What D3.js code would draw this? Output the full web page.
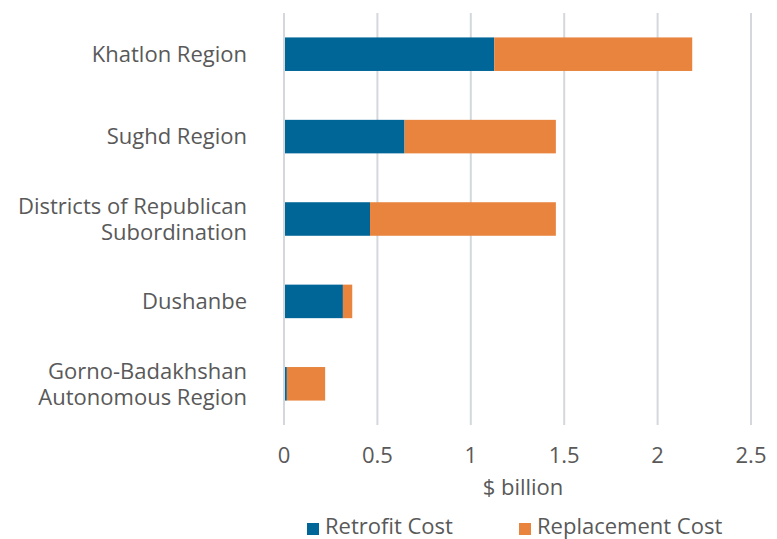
<!DOCTYPE html>
<html>
<head>
<meta charset="utf-8">
<script src="https://cdn.jsdelivr.net/npm/d3@7"></script>
<style>
  html, body { margin: 0; padding: 0; background: #fff; }
  svg { display: block; }
  text { font-family: "Open Sans", "Noto Sans", sans-serif; fill: #595959; }
</style>
</head>
<body>
<svg id="chart" width="777" height="539"></svg>
<script>
// Cost of bringing buildings up to standard, by region ($ billion)
const regions = [
  "Khatlon Region",
  "Sughd Region",
  "Districts of Republican Subordination",
  "Dushanbe",
  "Gorno-Badakhshan Autonomous Region"
];
const regionLabelLines = [
  ["Khatlon Region"],
  ["Sughd Region"],
  ["Districts of Republican", "Subordination"],
  ["Dushanbe"],
  ["Gorno-Badakhshan", "Autonomous Region"]
];
const retrofitCost    = [1.12, 0.64, 0.455, 0.31, 0.01];
const replacementCost = [1.06, 0.81, 0.995, 0.05, 0.205];
const seriesNames  = ["Retrofit Cost", "Replacement Cost"];
const seriesColors = ["#006597", "#e8843d"];
const xTicks = [0, 0.5, 1, 1.5, 2, 2.5];
const xTitle = "$ billion";

const svg = d3.select("#chart");
const plot = { left: 284, right: 751, top: 13, bottom: 425 };
const fontSize = 22;

const x = d3.scaleLinear().domain([0, 2.5]).range([plot.left, plot.right]);
const y = d3.scaleBand().domain(regions).range([plot.top, plot.bottom])
  .paddingInner(0.593).paddingOuter(0.2965);

// vertical gridlines
svg.append("g").selectAll("line").data(xTicks).join("line")
  .attr("x1", d => x(d)).attr("x2", d => x(d))
  .attr("y1", plot.top).attr("y2", plot.bottom)
  .attr("stroke", "#d4d7dc").attr("stroke-width", 2);

// stacked bars
const rows = regions.map((r, i) => ({ region: r, retrofit: retrofitCost[i], replacement: replacementCost[i] }));
const stacked = d3.stack().keys(["retrofit", "replacement"])(rows);

svg.append("g").selectAll("g").data(stacked).join("g")
  .attr("fill", (d, i) => seriesColors[i])
  .selectAll("rect").data(d => d).join("rect")
  .attr("x", d => x(d[0]) + 1)
  .attr("width", d => Math.max(0, x(d[1]) - x(d[0])))
  .attr("y", d => y(d.data.region))
  .attr("height", y.bandwidth());

// category labels
const lineH = 26;
const catG = svg.append("g");
regions.forEach((r, i) => {
  const lines = regionLabelLines[i];
  const cy = y(r) + y.bandwidth() / 2;
  const t = catG.append("text")
    .attr("text-anchor", "end")
    .attr("font-size", fontSize)
    .attr("x", 247)
    .attr("y", cy - (lines.length - 1) * lineH / 2);
  lines.forEach((ln, j) => {
    t.append("tspan").attr("x", 247).attr("dy", j === 0 ? "0.35em" : lineH).text(ln);
  });
});

// x tick labels (the last one runs into the right edge)
svg.append("clipPath").attr("id", "tickClip")
  .append("rect").attr("x", 0).attr("y", 0).attr("width", 767).attr("height", 539);
svg.append("g").attr("clip-path", "url(#tickClip)")
  .selectAll("text").data(xTicks).join("text")
  .attr("x", d => x(d)).attr("y", 455).attr("dy", "0.35em")
  .attr("text-anchor", "middle").attr("font-size", fontSize)
  .text(d => d3.format("")(d));

// axis title
svg.append("text").attr("x", 523).attr("y", 487).attr("dy", "0.35em")
  .attr("text-anchor", "middle").attr("font-size", fontSize).text(xTitle);

// legend
const legendX = [307, 519];
const lg = svg.append("g");
seriesNames.forEach((name, i) => {
  lg.append("rect").attr("x", legendX[i]).attr("y", 523)
    .attr("width", 12).attr("height", 12).attr("fill", seriesColors[i]);
  lg.append("text").attr("x", legendX[i] + 18).attr("y", 534)
    .attr("font-size", fontSize).text(name);
});
</script>
</body>
</html>
